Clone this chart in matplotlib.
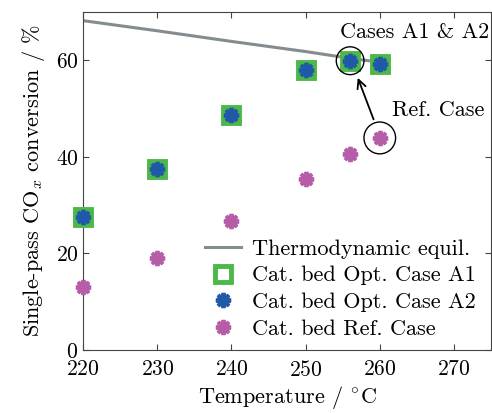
import matplotlib
matplotlib.use("Agg")
import matplotlib.pyplot as plt
from matplotlib.patches import Ellipse

plt.rcParams['font.family'] = 'serif'
plt.rcParams['font.serif'] = ['cmr10']
plt.rcParams['mathtext.fontset'] = 'cm'
plt.rcParams['axes.formatter.use_mathtext'] = True
plt.rcParams['font.size'] = 15.5

# data
T_eq = [220, 230, 240, 250, 256, 260]
X_eq = [68.2, 66.1, 63.9, 61.8, 60.4, 59.6]

T_cases = [220, 230, 240, 250, 256, 260]
X_A1 = [27.5, 37.4, 48.7, 58.0, 59.8, 59.3]
X_A2 = [27.5, 37.4, 48.7, 58.0, 59.8, 59.3]
X_ref = [13.0, 19.0, 26.6, 35.3, 40.5, 43.8]

green = '#4cb848'
blue = '#1f59a8'
pink = '#b65ca8'
grey = '#858c90'

fig = plt.figure(figsize=(4.92, 4.13), dpi=100)
ax = fig.add_axes([0.169, 0.153, 0.829, 0.818])

ax.plot(T_eq, X_eq, color=grey, lw=2.2, label='Thermodynamic equil.', zorder=2)
ax.plot(T_cases, X_A1, ls='none', marker='s', ms=12, mfc='white', mec=green,
        mew=3.5, label='Cat. bed Opt. Case A1', zorder=3, clip_on=False)
ax.plot(T_cases, X_A2, ls='none', marker=(8, 2, 0), ms=11, mec=blue, mfc=blue,
        mew=2.8, label='Cat. bed Opt. Case A2', zorder=4, clip_on=False)
ax.plot(T_cases, X_ref, ls='none', marker=(8, 2, 0), ms=11, mec=pink, mfc=pink,
        mew=2.8, label='Cat. bed Ref. Case', zorder=4, clip_on=False)

ax.set_xlim(220, 275)
ax.set_ylim(0, 70)
ax.set_xticks([220, 230, 240, 250, 260, 270])
ax.set_yticks([0, 20, 40, 60])
ax.tick_params(direction='in', top=True, right=True, length=4, color='#444444')
ax.tick_params(axis='x', pad=7)
for s in ax.spines.values():
    s.set_color('#444444')

ax.set_xlabel(r'Temperature / $^{\circ}$C', fontsize=16, labelpad=3)
ax.set_ylabel(r'Single-pass CO$_x$ conversion / %', fontsize=16, labelpad=6)

# highlight circles drawn round in pixels
sx = 7.5
sy = 4.85
ax.add_patch(Ellipse((256, 59.9), 28 / sx, 28 / sy, fill=False, ec='black', lw=1, zorder=5))
ax.add_patch(Ellipse((260, 43.9), 32 / sx, 32 / sy, fill=False, ec='black', lw=1, zorder=5))
ax.annotate('', xy=(256.9, 56.9), xytext=(259.3, 47.2),
            arrowprops=dict(arrowstyle='->', color='black', lw=1.3))
ax.text(264.7, 65.7, 'Cases A1 & A2', ha='center', va='center', fontsize=16)
ax.text(267.9, 49.7, 'Ref. Case', ha='center', va='center', fontsize=16)

ax.legend(loc='lower right', frameon=False, fontsize=16, handlelength=1.6,
          borderaxespad=0.1, labelspacing=0.32, handletextpad=0.5,
          bbox_to_anchor=(0.99, 0.0))

fig.savefig('out.png', dpi=100)
